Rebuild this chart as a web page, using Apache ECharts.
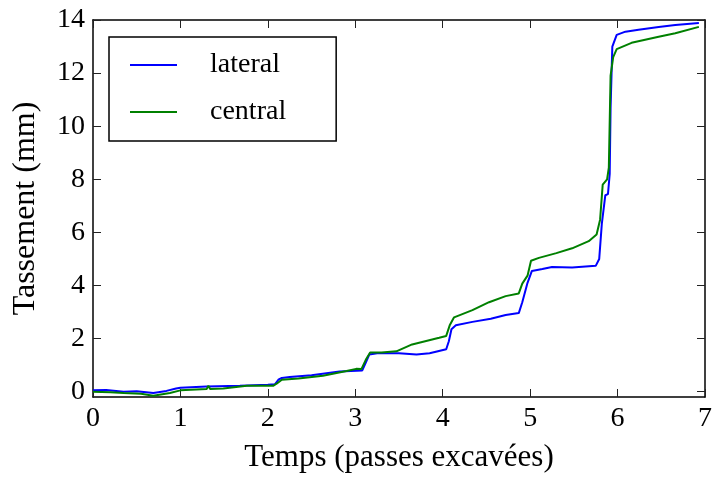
<!DOCTYPE html>
<html>
<head>
<meta charset="utf-8">
<script src="https://cdn.jsdelivr.net/npm/echarts@6/dist/echarts.min.js"></script>
<style>
html, body { margin: 0; padding: 0; background: #fff; }
#show { width: 715px; height: 478px; }
</style>
</head>
<body>
<div id="show"></div>
<script>
// tassement lateral (bleu)
var latX = [0, 0.15, 0.35, 0.5, 0.69, 0.84, 0.95, 1.0, 1.3, 1.68, 2.0, 2.08, 2.12, 2.16, 2.25, 2.5, 2.82, 3.08, 3.12, 3.16, 3.25, 3.5, 3.7, 3.85, 4.04, 4.07, 4.1, 4.15, 4.34, 4.55, 4.72, 4.87, 4.91, 4.97, 5.02, 5.14, 5.25, 5.48, 5.75, 5.79, 5.82, 5.86, 5.89, 5.91, 5.92, 5.94, 5.99, 6.09, 6.24, 6.47, 6.66, 6.93];
var latY = [0.05, 0.06, 0.0, 0.02, -0.05, 0.03, 0.12, 0.15, 0.2, 0.22, 0.26, 0.28, 0.45, 0.52, 0.55, 0.62, 0.76, 0.8, 1.1, 1.4, 1.45, 1.45, 1.4, 1.45, 1.6, 1.9, 2.35, 2.5, 2.63, 2.75, 2.89, 2.96, 3.37, 4.1, 4.55, 4.62, 4.7, 4.68, 4.74, 5.0, 6.33, 7.4, 7.44, 8.2, 10.7, 13.0, 13.44, 13.56, 13.63, 13.74, 13.81, 13.89];
// tassement central (vert)
var cenX = [0, 0.2, 0.35, 0.55, 0.69, 0.88, 1.0, 1.3, 1.32, 1.34, 1.49, 1.76, 2.06, 2.1, 2.16, 2.35, 2.63, 2.9, 3.01, 3.07, 3.12, 3.17, 3.3, 3.47, 3.65, 3.96, 4.04, 4.08, 4.13, 4.34, 4.53, 4.72, 4.87, 4.91, 4.97, 5.01, 5.1, 5.3, 5.48, 5.67, 5.76, 5.8, 5.83, 5.88, 5.9, 5.92, 5.95, 5.99, 6.16, 6.47, 6.66, 6.93];
var cenY = [0.0, -0.02, -0.05, -0.08, -0.15, -0.05, 0.05, 0.1, 0.22, 0.1, 0.12, 0.22, 0.22, 0.3, 0.45, 0.5, 0.6, 0.78, 0.86, 0.85, 1.2, 1.48, 1.48, 1.52, 1.78, 2.03, 2.1, 2.5, 2.8, 3.07, 3.37, 3.6, 3.7, 4.07, 4.37, 4.93, 5.04, 5.22, 5.4, 5.67, 5.92, 6.48, 7.8, 8.0, 8.44, 11.9, 12.6, 12.9, 13.14, 13.37, 13.5, 13.74];
var yTicks = [0, 2, 4, 6, 8, 10, 12, 14];

function pairs(xs, ys) {
    var out = [];
    for (var i = 0; i < xs.length; i++) {
        out.push([xs[i], ys[i]]);
    }
    return out;
}

var font = 'Liberation Serif';
var myChart = echarts.init(document.getElementById('show'));
var tick = {show: true, inside: true, length: 8, lineStyle: {color: '#222', width: 1}};
var line = {show: true, onZero: false, lineStyle: {color: '#000', width: 1.5}};

var option = {
    animation: false,
    grid: {left: 93, right: 9, top: 20, bottom: 75},
    legend: {
        orient: 'vertical',
        left: 109,
        top: 37,
        padding: [12, 50, 13, 21],
        icon: 'rect',
        itemWidth: 47,
        itemHeight: 2,
        itemGap: 15,
        borderColor: '#000',
        borderWidth: 1.5,
        borderRadius: 0,
        backgroundColor: '#fff',
        textStyle: {fontFamily: font, fontSize: 28, lineHeight: 32, color: '#000', padding: [0, 0, 0, 28]},
        data: ['lateral', 'central']
    },
    xAxis: [
        {
            type: 'value', min: 0, max: 7, interval: 1,
            name: 'Temps (passes excavées)', nameLocation: 'middle', nameGap: 45,
            nameTextStyle: {fontFamily: font, fontSize: 31, color: '#000'},
            axisLine: line, axisTick: tick, splitLine: {show: false},
            axisLabel: {fontFamily: font, fontSize: 28, color: '#000', margin: 8}
        },
        {
            type: 'value', position: 'top', min: 0, max: 7, interval: 1,
            axisLine: line, axisTick: tick, splitLine: {show: false},
            axisLabel: {show: false}
        }
    ],
    yAxis: [
        {
            type: 'value', min: -0.2, max: 14,
            name: 'Tassement (mm)', nameLocation: 'middle', nameGap: 51,
            nameTextStyle: {fontFamily: font, fontSize: 32, color: '#000'},
            axisLine: line,
            axisTick: {show: true, inside: true, length: 8, lineStyle: {color: '#222', width: 1}, customValues: yTicks},
            splitLine: {show: false},
            axisLabel: {fontFamily: font, fontSize: 28, color: '#000', margin: 8, customValues: yTicks}
        },
        {
            type: 'value', position: 'right', min: -0.2, max: 14,
            axisLine: line,
            axisTick: {show: true, inside: true, length: 8, lineStyle: {color: '#222', width: 1}, customValues: yTicks},
            splitLine: {show: false},
            axisLabel: {show: false, customValues: yTicks}
        }
    ],
    series: [
        {
            name: 'lateral', type: 'line', xAxisIndex: 0, yAxisIndex: 0,
            symbol: 'none', color: '#0000ff',
            lineStyle: {width: 2, color: '#0000ff'},
            data: pairs(latX, latY)
        },
        {
            name: 'central', type: 'line', xAxisIndex: 0, yAxisIndex: 0,
            symbol: 'none', color: '#008000',
            lineStyle: {width: 2, color: '#008000'},
            data: pairs(cenX, cenY)
        }
    ]
};
myChart.setOption(option);
</script>
</body>
</html>
